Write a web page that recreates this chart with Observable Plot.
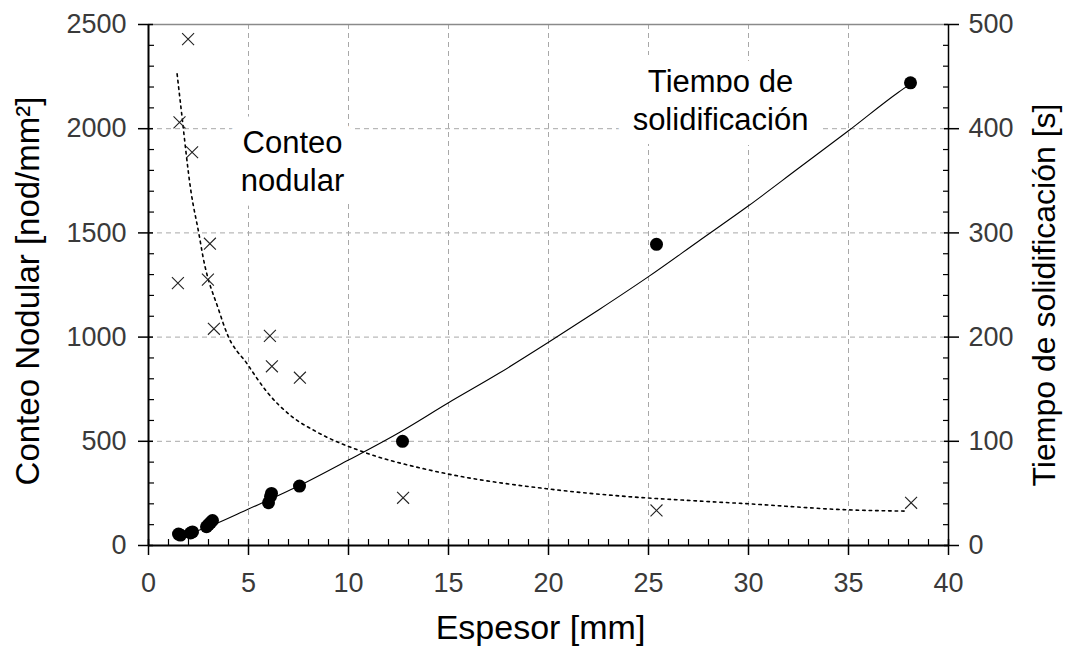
<!DOCTYPE html>
<html>
<head>
<meta charset="utf-8">
<script src="https://cdn.jsdelivr.net/npm/d3@7"></script>
<script src="https://cdn.jsdelivr.net/npm/@observablehq/plot@0.6"></script>
<style>
  html, body { margin: 0; padding: 0; background: #fff; }
  svg { display: block; }
</style>
</head>
<body>
<div id="chart"></div>
<script>
// ---- data ----
// Conteo nodular (× marks, left axis)
const countX = [1.98, 1.55, 2.18, 1.47, 3.07, 2.97, 3.27, 6.07, 6.17, 7.57, 12.73, 25.4, 38.13];
const countY = [2430, 2030, 1887, 1259, 1448, 1276, 1040, 1006, 860, 805, 229, 168, 205];
// Tiempo de solidificación (filled circles, right axis, s)
const timeX = [1.5, 1.6, 2.1, 2.2, 2.9, 3.0, 3.1, 3.2, 6.0, 6.1, 6.15, 7.55, 12.7, 25.4, 38.1];
const timeY = [11, 10, 12, 13, 18, 20, 22, 24, 41, 47, 50, 57, 100, 289, 444];
// Fitted curve for nodule count (dotted)
const fitCountX = [1.43, 1.6, 2.13, 2.52, 2.73, 3.52, 3.93, 4.93, 5.93, 7.1, 8.43, 10.77, 13.77, 14.93, 19.93, 23.93, 27.6, 30, 35, 37.8];
const fitCountY = [2263, 2121, 1695, 1496, 1383, 1128, 1016, 872, 736, 624, 544, 448, 368, 344, 272, 235, 213, 200, 171, 165];
// Fitted curve for solidification time (solid)
const fitTimeX = [1.5, 3, 5, 7.5, 10, 12.5, 15, 17.5, 20, 22.5, 25, 27.5, 30, 32.5, 35, 37.5, 38.1];
const fitTimeY = [8, 18, 35, 57, 82, 108, 137, 165, 195, 226, 258, 292, 326, 362, 398, 435, 443];

// Ticks
const xTicks = [0, 5, 10, 15, 20, 25, 30, 35, 40];
const yLeftTicks = [0, 500, 1000, 1500, 2000, 2500];
const yRightTicks = [0, 100, 200, 300, 400, 500];
const xGrid = [5, 10, 15, 20, 25, 30, 35];
const yGrid = [500, 1000, 1500, 2000];
const xMinor = d3.range(0, 41, 1).filter(d => d % 5 !== 0);
const yMinor = d3.range(0, 2501, 100).filter(d => d % 500 !== 0);

// Labels
const xLabel = "Espesor [mm]";
const yLeftLabel = "Conteo Nodular [nod/mm²]";
const yRightLabel = "Tiempo de solidificación [s]";
const annotText = ["Conteo\nnodular", "Tiempo de\nsolidificación"];
const annotX = [7.2, 28.6];
const annotY = [1852, 2145];

// Right axis: 500 s corresponds to 2500 on the left scale
const ratio = 2500 / 500;

const countData = countX.map((x, i) => ({x, y: countY[i]}));
const timeData = timeX.map((x, i) => ({x, t: timeY[i]}));
const fitCount = fitCountX.map((x, i) => ({x, y: fitCountY[i]}));
const fitTime = fitTimeX.map((x, i) => ({x, t: fitTimeY[i]}));
const annots = annotText.map((text, i) => ({text, x: annotX[i], y: annotY[i]}));

const FONT = "'Liberation Sans', Arial, Helvetica, sans-serif";
const plain = d => String(d);

const chart = Plot.plot({
  width: 1066,
  height: 658,
  marginLeft: 148,
  marginRight: 118,
  marginTop: 24,
  marginBottom: 113,
  x: {domain: [0, 40]},
  y: {domain: [0, 2500]},
  style: {fontFamily: FONT, background: "#fff", overflow: "visible"},
  marks: [
    // grid
    Plot.ruleX(xGrid, {stroke: "#a8a8a8", strokeWidth: 1, strokeDasharray: "5,4"}),
    Plot.ruleY(yGrid, {stroke: "#a8a8a8", strokeWidth: 1, strokeDasharray: "5,4"}),
    Plot.ruleY([2500], {stroke: "#8a8a8a", strokeWidth: 1.5}),
    // annotations with white box-like halo
    Plot.text(annots, {x: "x", y: "y", text: "text", fontSize: 31, lineHeight: 1.25, fill: "#000",
      stroke: "#fff", strokeWidth: 30, strokeLinejoin: "round"}),
    // axis lines
    Plot.ruleX([0], {stroke: "#000", strokeWidth: 2}),
    Plot.ruleX([40], {stroke: "#000", strokeWidth: 1.5}),
    Plot.ruleY([0], {stroke: "#000", strokeWidth: 2}),
    // x axis
    Plot.axisX(xTicks, {tickSize: 10, tickPadding: 17, fontSize: 27, fill: "#3a3a3a", stroke: "#000", strokeWidth: 1.5, label: null, tickFormat: plain}),
    Plot.axisX(xTicks, {tickSize: -6, text: null, stroke: "#000", strokeWidth: 1.5, label: null}),
    Plot.axisX(xMinor, {tickSize: -6, text: null, stroke: "#000", strokeWidth: 1.2, label: null}),
    // left y axis
    Plot.axisY(yLeftTicks, {anchor: "left", tickSize: 10, tickPadding: 12, fontSize: 27, fill: "#3a3a3a", stroke: "#000", strokeWidth: 1.5, label: null, tickFormat: plain}),
    Plot.axisY(yLeftTicks, {anchor: "left", tickSize: -5, text: null, stroke: "#000", strokeWidth: 1.5, label: null}),
    Plot.axisY(yMinor, {anchor: "left", tickSize: -6, text: null, stroke: "#000", strokeWidth: 1.2, label: null}),
    // right y axis (seconds)
    Plot.axisY(yRightTicks.map(d => d * ratio), {anchor: "right", tickSize: 10, tickPadding: 10, fontSize: 27, fill: "#3a3a3a", stroke: "#000", strokeWidth: 1.5, label: null, tickFormat: d => String(d / ratio)}),
    Plot.axisY(yRightTicks.map(d => d * ratio), {anchor: "right", tickSize: -5, text: null, stroke: "#000", strokeWidth: 1.5, label: null}),
    Plot.axisY(yMinor, {anchor: "right", tickSize: -6, text: null, stroke: "#000", strokeWidth: 1.2, label: null}),
    // axis titles
    Plot.text([xLabel], {frameAnchor: "bottom", textAnchor: "middle", dx: -8, dy: 93, fontSize: 34, fill: "#000"}),
    Plot.text([yLeftLabel], {frameAnchor: "left", textAnchor: "middle", lineAnchor: "middle", rotate: -90, dx: -120, dy: 6, fontSize: 33, fill: "#000"}),
    Plot.text([yRightLabel], {frameAnchor: "right", textAnchor: "middle", lineAnchor: "middle", rotate: -90, dx: 96, dy: 10, fontSize: 32, fill: "#000"}),
    // fitted curves
    Plot.line(fitCount, {x: "x", y: "y", stroke: "#000", strokeWidth: 1.6, strokeDasharray: "2.5,4", curve: "monotone-x"}),
    Plot.line(fitTime, {x: "x", y: d => d.t * ratio, stroke: "#000", strokeWidth: 1.1, curve: "monotone-x"}),
    // data points
    Plot.dot(countData, {x: "x", y: "y", symbol: "times", r: 5.5, stroke: "#222", strokeWidth: 1.1}),
    Plot.dot(timeData, {x: "x", y: d => d.t * ratio, r: 6.5, fill: "#000", stroke: "none"})
  ]
});

document.getElementById("chart").appendChild(chart);
</script>
</body>
</html>
